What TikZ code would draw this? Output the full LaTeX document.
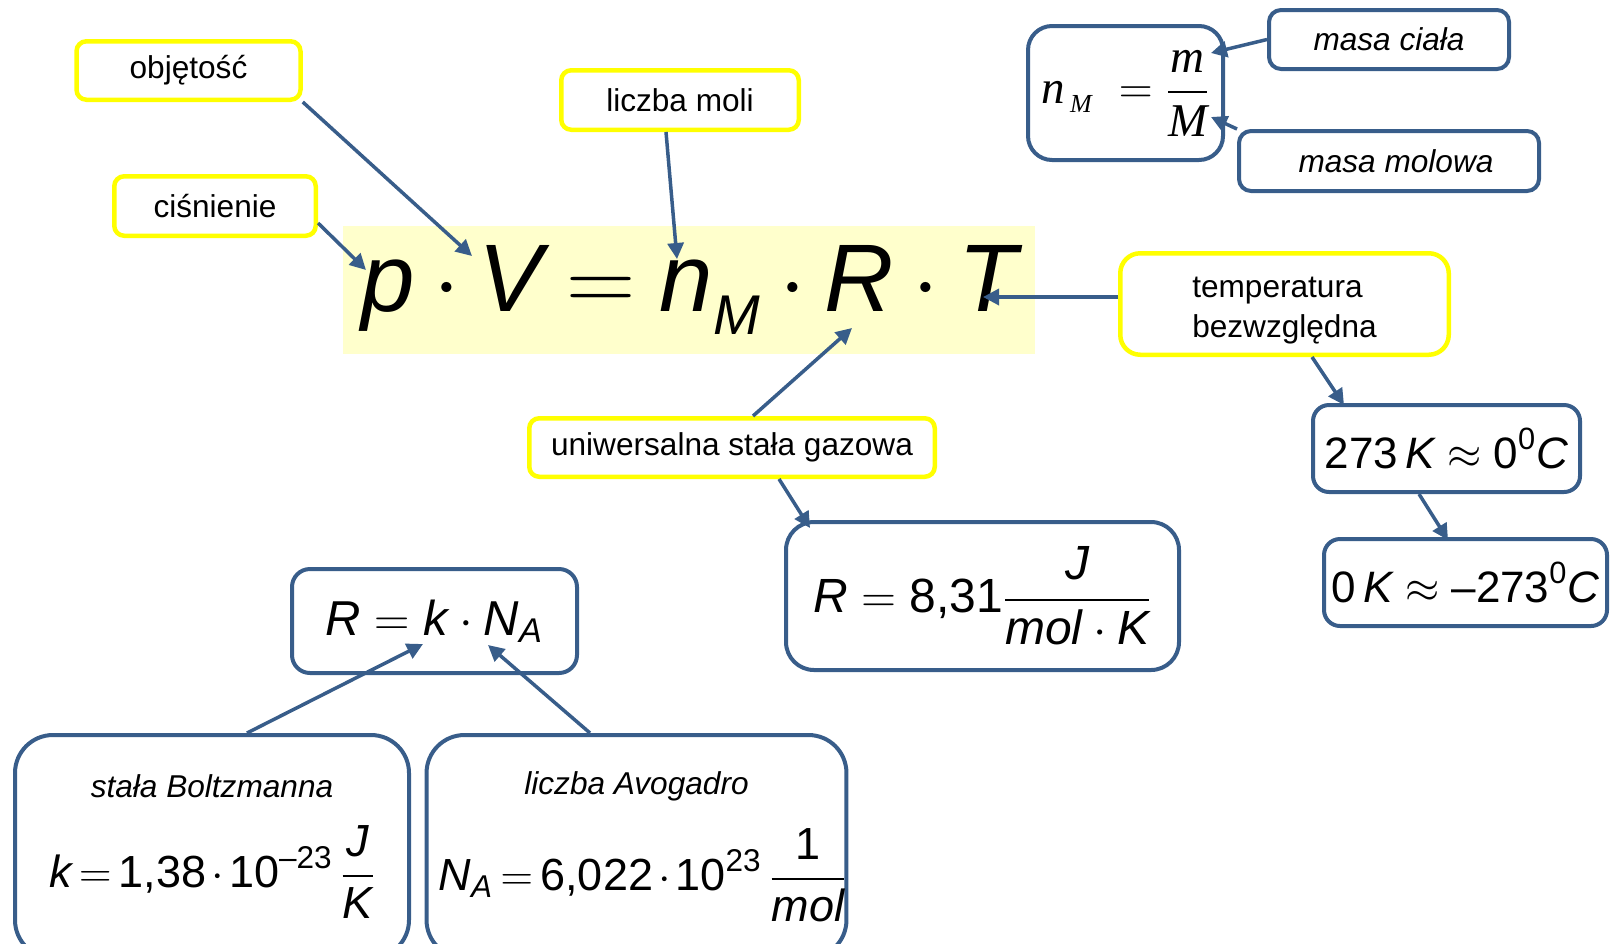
\documentclass[tikz,border=0pt]{standalone}
\usepackage{fix-cm}
\usepackage{amsmath}
\usepackage{fontspec}
\setmainfont{Liberation Sans}
\newfontfamily\timesfont{Liberation Serif}
\usetikzlibrary{positioning,arrows.meta,calc}
\definecolor{dblue}{HTML}{385D8A}
\definecolor{ylw}{HTML}{FFFF00}
\definecolor{hilite}{HTML}{FFFFCC}

\begin{document}
\begin{tikzpicture}[x=0.5pt,y=-0.5pt,
lbl/.style={draw=ylw,line width=2.25pt,rounded corners=5pt,fill=white,inner sep=0pt,font=\fontsize{15.8}{20}\selectfont},
blu/.style={draw=dblue,line width=2pt,fill=white,inner sep=0pt},
tight/.style={execute at begin node={\medmuskip=2mu\thickmuskip=3mu}},
arr/.style={-{Triangle[length=8pt,width=8pt]},dblue,line width=1.75pt}]
\useasboundingbox (0,0) rectangle (1615,943);
\clip (0,0) rectangle (1615,943);
% main equation
\node[fill=hilite,minimum width=346pt,minimum height=64pt,inner sep=0pt,font=\fontsize{48}{58}\selectfont,
  execute at begin node={\medmuskip=3.5mu\thickmuskip=4.5mu}] (gas) at (689,290)
  {$\textit{p}\cdot\textit{V}=\textit{n}_{\raisebox{-4pt}{\fontsize{28}{30}\selectfont\itshape M}}\cdot\textit{R}\cdot\textit{T}$};
% yellow labels
\node[lbl,minimum width=112pt,minimum height=29.25pt] (obj) at (188.5,70.5) {objętość};
\node[lbl,minimum width=100.75pt,minimum height=29.75pt] (cisn) at (215,206) {ciśnienie};
\node[lbl,minimum width=118.75pt,minimum height=29.75pt] (moli) at (680,100) {liczba moli};
\node[lbl,minimum width=202.75pt,minimum height=29.25pt] (gaz) at (732,447.5) {uniwersalna stała gazowa};
\node[lbl,rounded corners=10pt,minimum width=164.25pt,minimum height=50.75pt,align=left] (temp) at (1284.5,304)
  {\rule{0pt}{17pt}temperatura\\bezwzględna};
% blue boxes
\node[blu,rounded corners=12pt,minimum width=97.5pt,minimum height=67pt,font=\timesfont\fontsize{23.5}{28}\selectfont] (nM) at (1125.5,93)
  {$\textit{n}_{\mkern3mu\raisebox{-1pt}{\fontsize{13}{15}\selectfont\itshape M}}\;=\dfrac{\textit{m}}{\textit{M}}$};
\node[blu,rounded corners=6pt,minimum width=120pt,minimum height=29.5pt,font=\itshape\fontsize{15.8}{20}\selectfont] (masaC) at (1389,39.5) {masa ciała};
\node[blu,rounded corners=6pt,minimum width=150pt,minimum height=30pt,font=\itshape\fontsize{15.8}{20}\selectfont] (masaM) at (1389,161)
  {\hspace*{7pt}masa molowa};
\node[blu,rounded corners=14pt,minimum width=196.5pt,minimum height=74pt,font=\fontsize{24}{29}\selectfont] (Rval) at (982.5,596)
  {$\textit{R}=\text{8,31}\dfrac{\textit{J}}{\textit{mol}\cdot\textit{K}}$};
\node[blu,rounded corners=8pt,minimum width=133.5pt,minimum height=43.5pt,font=\fontsize{22}{26}\selectfont] (t273) at (1446.5,448.5)
  {$\text{273}\,\textit{K}\approx\text{0}^{\text{0}}\textit{C}$};
\node[blu,rounded corners=8pt,minimum width=141.5pt,minimum height=43.5pt,font=\fontsize{22}{26}\selectfont] (t0) at (1465.5,582.5)
  {$\text{0}\,\textit{K}\approx\text{–273}^{\text{0}}\textit{C}$};
\node[blu,rounded corners=9pt,minimum width=142.5pt,minimum height=52pt,font=\fontsize{24.5}{29}\selectfont] (Rk) at (434.5,621)
  {$\textit{R}=\textit{k}\cdot\textit{N}_{\textit{A}}$};
\node[blu,tight,rounded corners=19pt,minimum width=197pt,minimum height=111.5pt,align=center] (boltz) at (212,846.5)
  {{\itshape\fontsize{15.8}{19}\selectfont stała Boltzmanna}\\[13pt]
   {\fontsize{22.5}{27}\selectfont $\textit{k}=\text{1,38}\cdot\text{10}^{\text{–23}}\,\dfrac{\textit{J}}{\textit{K}}$}};
\node[blu,tight,rounded corners=19pt,minimum width=208.5pt,minimum height=111.5pt,align=center] (avog) at (636.5,846.5)
  {{\itshape\fontsize{15.8}{19}\selectfont liczba Avogadro}\\[13pt]
   {\fontsize{22.5}{27}\selectfont \hspace*{6pt}$\textit{N}_{\textit{A}}=\text{6,022}\cdot\text{10}^{\text{23}}\,\dfrac{\text{1}}{\textit{mol}}$}};
% arrow targets
\coordinate (pP) at (366,270);
\coordinate (pV) at (472,256);
\coordinate (pN) at (677,259);
\coordinate (pR) at (852,328);
\coordinate (pT) at (983,297);
\coordinate (pm) at (1211,53);
\coordinate (pM) at (1211,117);
\coordinate (pk) at (423,644);
\coordinate (pNA) at (488,645);
% arrows
\draw[arr] (obj.south east) -- (pV);
\draw[arr] ($(cisn.east)+(0,17)$) -- (pP);
\draw[arr] ($(moli.south)+(-14,0)$) -- (pN);
\draw[arr] ($(gaz.north)+(21,0)$) -- (pR);
\draw[arr] ($(gaz.south)+(47,0)$) -- ($(Rval.north west)+(26,8)$);
\draw[arr] ($(temp.west)+(0,-7)$) -- (pT);
\draw[arr] ($(temp.south)+(27.5,0)$) -- ($(t273.north west)+(33,2)$);
\draw[arr] ($(t273.south)+(-27.5,0)$) -- ($(t0.north west)+(126,3)$);
\draw[arr] (masaC.west) -- (pm);
\draw[arr] (masaM.north west) -- (pM);
\draw[arr] ($(boltz.north)+(35,0)$) -- (pk);
\draw[arr] ($(avog.north)+(-46.5,0)$) -- (pNA);
\end{tikzpicture}
\end{document}
